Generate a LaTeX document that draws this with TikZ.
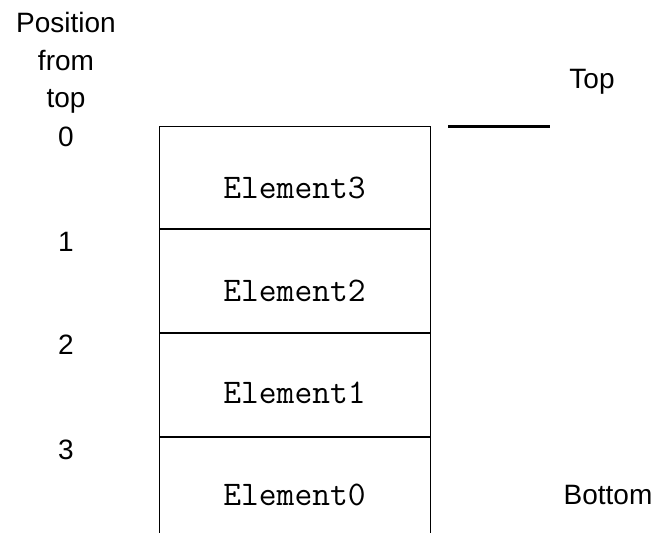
\documentclass[tikz,border=0pt]{standalone}
\usepackage{fontspec}
\setmainfont{Liberation Sans}
\usepackage{tikz}
\usetikzlibrary{positioning}

\begin{document}
\begin{tikzpicture}[x=1pt,y=-1pt,
  cell/.style={draw,line width=1pt,minimum width=271pt,minimum height=102.7pt,inner sep=0pt},
  elem/.style={font=\ttfamily\fontsize{34.5}{40}\selectfont},
  lbl/.style={font=\fontsize{28}{37.5}\selectfont,align=center,inner sep=0pt}]
\useasboundingbox (0,0) rectangle (665,533);
\node[cell] (c3) at (294.5,177.5) {};
\node[cell,below=0pt of c3] (c2) {};
\node[cell,below=0pt of c2] (c1) {};
\node[cell,below=0pt of c1,minimum height=130pt] (c0) {};
\node[elem] (e3) at (294.5,188) {Element3};
\node[elem] (e2) at (294.5,291) {Element2};
\node[elem] (e1) at (294.5,393) {Element1};
\node[elem] (e0) at (294.5,495) {Element0};
\node[lbl] (head) at (66,63) {Position\\from\\top};
\node[lbl] (p0) at (66,137) {0};
\node[lbl] (p1) at (66,242) {1};
\node[lbl] (p2) at (66,345) {2};
\node[lbl] (p3) at (66,450) {3};
\coordinate (ml) at (448,126);
\coordinate (mr) at (550,126);
\draw[line width=3pt] (ml) -- (mr);
\node[lbl] (top) at (592,82) {Top};
\node[lbl] (bot) at (608,495) {Bottom};
\end{tikzpicture}
\end{document}
